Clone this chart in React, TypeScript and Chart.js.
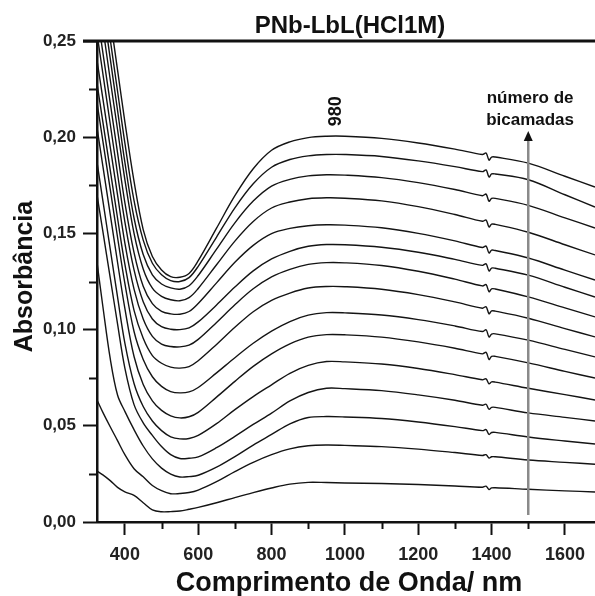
import React, { useEffect, useRef } from 'react';
import { Chart, registerables } from 'chart.js';

Chart.register(...registerables);

// ---- data ----
const wavelengths = [324, 340, 360, 380, 400, 425, 450, 475, 500, 525, 550, 575, 600, 650, 700, 750, 800, 850, 900, 950, 1000, 1100, 1200, 1300, 1375, 1385, 1393, 1400, 1410, 1500, 1600, 1682];

const abs14 = [0.312, 0.290, 0.262, 0.235, 0.208, 0.177, 0.152, 0.138, 0.131, 0.1275, 0.1272, 0.1292, 0.1358, 0.1527, 0.1696, 0.1836, 0.1932, 0.1976, 0.1998, 0.2005, 0.2005, 0.1994, 0.1970, 0.1938, 0.1910, 0.1918, 0.1881, 0.1897, 0.1897, 0.1865, 0.1797, 0.1741];
const abs13 = [0.301, 0.279, 0.251, 0.224, 0.197, 0.167, 0.1465, 0.1345, 0.1285, 0.1255, 0.125, 0.127, 0.1329, 0.1481, 0.1633, 0.1758, 0.1844, 0.1884, 0.1903, 0.191, 0.191, 0.1900, 0.1877, 0.1847, 0.1821, 0.1830, 0.1793, 0.1809, 0.1809, 0.1779, 0.1701, 0.1637];
const abs12 = [0.290, 0.268, 0.241, 0.214, 0.187, 0.158, 0.139, 0.1285, 0.1237, 0.1217, 0.121, 0.1228, 0.1281, 0.1418, 0.1555, 0.1668, 0.1746, 0.1781, 0.1799, 0.1805, 0.1803, 0.1790, 0.1764, 0.1728, 0.1696, 0.1704, 0.1667, 0.1682, 0.1682, 0.1646, 0.1581, 0.1528];
const abs11 = [0.278, 0.257, 0.230, 0.204, 0.178, 0.150, 0.1315, 0.1215, 0.1173, 0.1155, 0.115, 0.1166, 0.1214, 0.1337, 0.146, 0.1562, 0.1632, 0.1663, 0.1680, 0.1685, 0.1683, 0.1669, 0.1639, 0.1598, 0.1563, 0.1570, 0.1533, 0.1548, 0.1547, 0.1506, 0.1441, 0.1388];
const abs10 = [0.265, 0.244, 0.218, 0.192, 0.166, 0.140, 0.1225, 0.1135, 0.1095, 0.1082, 0.108, 0.1094, 0.1136, 0.1243, 0.1350, 0.1438, 0.1499, 0.1526, 0.1540, 0.1545, 0.1543, 0.1529, 0.1500, 0.1461, 0.1427, 0.1434, 0.1398, 0.1413, 0.1411, 0.1372, 0.1309, 0.1258];
const abs9 = [0.254, 0.233, 0.207, 0.181, 0.156, 0.131, 0.1145, 0.1055, 0.1015, 0.1002, 0.100, 0.1009, 0.1040, 0.1128, 0.1221, 0.1305, 0.1367, 0.1407, 0.1433, 0.1442, 0.1441, 0.1428, 0.1402, 0.1365, 0.1334, 0.1342, 0.1305, 0.1320, 0.1319, 0.1283, 0.1220, 0.1169];
const abs8 = [0.240, 0.220, 0.195, 0.170, 0.145, 0.121, 0.1055, 0.0965, 0.0925, 0.0912, 0.0910, 0.0919, 0.0949, 0.1037, 0.1129, 0.1212, 0.1274, 0.1313, 0.1339, 0.1348, 0.1347, 0.1333, 0.1303, 0.1262, 0.1227, 0.1234, 0.1197, 0.1212, 0.1211, 0.1170, 0.1113, 0.1066];
const abs7 = [0.228, 0.208, 0.183, 0.158, 0.134, 0.110, 0.0955, 0.0865, 0.0825, 0.0805, 0.0800, 0.0808, 0.0838, 0.0923, 0.1012, 0.1093, 0.1152, 0.1190, 0.1216, 0.1224, 0.1223, 0.1210, 0.1182, 0.1144, 0.1111, 0.1119, 0.1082, 0.1097, 0.1096, 0.1059, 0.1005, 0.0962];
const abs6 = [0.218, 0.198, 0.173, 0.148, 0.124, 0.099, 0.0845, 0.0755, 0.0705, 0.0678, 0.0671, 0.0676, 0.0699, 0.0775, 0.0854, 0.0929, 0.0992, 0.1042, 0.1075, 0.1088, 0.1087, 0.1076, 0.1052, 0.1019, 0.0990, 0.0999, 0.0962, 0.0977, 0.0978, 0.0945, 0.0897, 0.0858];
const abs5 = [0.205, 0.185, 0.160, 0.135, 0.111, 0.086, 0.0715, 0.0630, 0.0580, 0.0552, 0.0541, 0.0547, 0.0570, 0.0649, 0.0731, 0.0809, 0.0874, 0.0926, 0.0961, 0.0974, 0.0973, 0.0961, 0.0936, 0.0903, 0.0874, 0.0882, 0.0845, 0.0861, 0.0861, 0.0827, 0.0783, 0.0748];
const abs4 = [0.187, 0.167, 0.142, 0.117, 0.093, 0.072, 0.060, 0.0525, 0.0475, 0.0443, 0.0432, 0.0434, 0.0450, 0.0511, 0.0584, 0.0652, 0.0713, 0.0773, 0.0814, 0.0834, 0.0832, 0.0821, 0.0798, 0.0766, 0.0739, 0.0744, 0.0718, 0.0728, 0.0727, 0.0695, 0.0662, 0.0634];
const abs3 = [0.170, 0.151, 0.127, 0.103, 0.080, 0.061, 0.0515, 0.0450, 0.0392, 0.0350, 0.0330, 0.0331, 0.0338, 0.0386, 0.0445, 0.0507, 0.0566, 0.0629, 0.0673, 0.0695, 0.0693, 0.0683, 0.0661, 0.0633, 0.0607, 0.0612, 0.0586, 0.0596, 0.0596, 0.0567, 0.0544, 0.0525];
const abs2 = [0.135, 0.112, 0.085, 0.066, 0.0575, 0.0480, 0.0395, 0.0328, 0.0280, 0.0249, 0.0234, 0.0236, 0.0243, 0.0285, 0.0340, 0.0400, 0.0455, 0.0510, 0.0543, 0.0548, 0.0546, 0.0538, 0.0520, 0.0496, 0.0475, 0.0480, 0.0455, 0.0465, 0.0466, 0.0442, 0.0421, 0.0405];
const abs1 = [0.0634, 0.057, 0.0495, 0.0423, 0.0350, 0.0277, 0.0235, 0.0190, 0.0163, 0.0147, 0.0148, 0.0153, 0.0166, 0.0210, 0.0262, 0.0310, 0.0350, 0.0380, 0.0396, 0.0400, 0.0398, 0.0392, 0.0379, 0.0361, 0.0346, 0.0350, 0.0332, 0.0339, 0.0339, 0.0322, 0.0310, 0.0300];
const abs0 = [0.0265, 0.0245, 0.0215, 0.0180, 0.0157, 0.0138, 0.0100, 0.0063, 0.0053, 0.0054, 0.0057, 0.0066, 0.0076, 0.0100, 0.0127, 0.0153, 0.0177, 0.0197, 0.0206, 0.0205, 0.0203, 0.0200, 0.0195, 0.0187, 0.0181, 0.0186, 0.0169, 0.0177, 0.0178, 0.0170, 0.0162, 0.0156];

const spectra = [abs0, abs1, abs2, abs3, abs4, abs5, abs6, abs7, abs8, abs9, abs10, abs11, abs12, abs13, abs14];

const xMin = 324;
const xMax = 1682;
const yMin = 0;
const yMax = 0.25;
const xTicks = [400, 600, 800, 1000, 1200, 1400, 1600];
const xMinorTicks = [500, 700, 900, 1100, 1300, 1500];
const yTicks = [0, 0.05, 0.1, 0.15, 0.2, 0.25];
const yMinorTicks = [0.025, 0.075, 0.125, 0.175, 0.225];

const chartTitle = 'PNb-LbL(HCl1M)';
const xTitle = 'Comprimento de Onda/ nm';
const yTitle = 'Absorbância';
const peakLabel = '980';
const peakLabelX = 975;
const peakLabelY = 0.2135;
const arrowX = 1500;
const arrowFrom = 0.0036;
const arrowTo = 0.2032;
const arrowText = ['número de', 'bicamadas'];
const arrowTextX = 1505;
const arrowTextY = [0.2178, 0.2063];

const FONT = '"Liberation Sans", Arial, Helvetica, sans-serif';

const decorPlugin = {
  id: 'decor',
  afterDraw(chart: any) {
    const ctx = chart.ctx;
    const xs = chart.scales.x;
    const ys = chart.scales.y;
    const area = chart.chartArea;
    ctx.save();
    // top frame line
    ctx.strokeStyle = '#111';
    ctx.lineWidth = 3;
    ctx.beginPath();
    ctx.moveTo(area.left - 14, area.top);
    ctx.lineTo(area.right, area.top);
    ctx.stroke();
    // minor ticks
    ctx.lineWidth = 2;
    ctx.strokeStyle = '#111';
    yMinorTicks.forEach((v) => {
      const y = Math.round(ys.getPixelForValue(v)) + 0.5;
      ctx.beginPath();
      ctx.moveTo(area.left - 8, y);
      ctx.lineTo(area.left, y);
      ctx.stroke();
    });
    xMinorTicks.forEach((v) => {
      const x = Math.round(xs.getPixelForValue(v)) + 0.5;
      ctx.beginPath();
      ctx.moveTo(x, area.bottom);
      ctx.lineTo(x, area.bottom + 7);
      ctx.stroke();
    });
    // title
    ctx.fillStyle = '#111';
    ctx.textAlign = 'center';
    ctx.textBaseline = 'alphabetic';
    ctx.font = `bold 24px ${FONT}`;
    ctx.fillText(chartTitle, (area.left + area.right) / 2 + 4, area.top - 8);
    // x title
    ctx.font = `bold 27px ${FONT}`;
    ctx.fillText(xTitle, (area.left + area.right) / 2 + 3, 591);
    // y title
    ctx.save();
    ctx.translate(25, (area.top + area.bottom) / 2 - 5);
    ctx.rotate(-Math.PI / 2);
    ctx.textBaseline = 'middle';
    ctx.font = `bold 25px ${FONT}`;
    ctx.fillText(yTitle, 0, 0);
    ctx.restore();
    // 980 label
    ctx.save();
    ctx.translate(xs.getPixelForValue(peakLabelX), ys.getPixelForValue(peakLabelY));
    ctx.rotate(-Math.PI / 2);
    ctx.textBaseline = 'middle';
    ctx.font = `bold 18px ${FONT}`;
    ctx.fillText(peakLabel, 0, 0);
    ctx.restore();
    // arrow
    const ax = xs.getPixelForValue(arrowX);
    const ay0 = ys.getPixelForValue(arrowFrom);
    const ay1 = ys.getPixelForValue(arrowTo);
    ctx.strokeStyle = '#8a8a8a';
    ctx.lineWidth = 2.5;
    ctx.beginPath();
    ctx.moveTo(ax, ay0);
    ctx.lineTo(ax, ay1 + 8);
    ctx.stroke();
    ctx.fillStyle = '#111';
    ctx.beginPath();
    ctx.moveTo(ax, ay1);
    ctx.lineTo(ax - 4.5, ay1 + 10);
    ctx.lineTo(ax + 4.5, ay1 + 10);
    ctx.closePath();
    ctx.fill();
    ctx.font = `bold 17px ${FONT}`;
    ctx.textBaseline = 'alphabetic';
    arrowText.forEach((t, i) => {
      ctx.fillText(t, xs.getPixelForValue(arrowTextX), ys.getPixelForValue(arrowTextY[i]));
    });
    ctx.restore();
  },
};

export default function App() {
  const canvasRef = useRef<HTMLCanvasElement | null>(null);

  useEffect(() => {
    const canvas = canvasRef.current;
    if (!canvas) return;
    const datasets = spectra.map((arr, k) => ({
      label: `${k}`,
      data: wavelengths.map((w, i) => ({ x: w, y: arr[i] })),
      borderColor: '#141414',
      borderWidth: 1.4,
      pointRadius: 0,
      fill: false,
      tension: 0.35,
    }));
    const chart = new Chart(canvas, {
      type: 'line',
      data: { datasets },
      options: {
        responsive: false,
        animation: false,
        layout: { padding: { top: 41, left: 0, right: 0, bottom: 0 } },
        plugins: { legend: { display: false }, tooltip: { enabled: false }, title: { display: false } },
        scales: {
          x: {
            type: 'linear',
            min: xMin,
            max: xMax,
            afterFit: (scale: any) => { scale.height = 74; },
            afterBuildTicks: (scale: any) => { scale.ticks = xTicks.map((value) => ({ value })); },
            border: { display: true, color: '#111', width: 2.5 },
            grid: { drawOnChartArea: false, drawTicks: true, tickLength: 13, tickWidth: 2, tickColor: '#111' },
            ticks: {
              color: '#222',
              font: { family: FONT, size: 18, weight: 'bold' },
              padding: 9,
              maxRotation: 0,
              autoSkip: false,
              callback: (v: any) => String(v),
            },
          },
          y: {
            type: 'linear',
            min: yMin,
            max: yMax,
            afterFit: (scale: any) => { scale.width = 97; },
            afterBuildTicks: (scale: any) => { scale.ticks = yTicks.map((value) => ({ value })); },
            border: { display: true, color: '#111', width: 2.5 },
            grid: { drawOnChartArea: false, drawTicks: true, tickLength: 14, tickWidth: 2, tickColor: '#111' },
            ticks: {
              color: '#222',
              font: { family: FONT, size: 17, weight: 'bold' },
              padding: 7,
              autoSkip: false,
              callback: (v: any) => Number(v).toFixed(2).replace('.', ','),
            },
          },
        },
      },
      plugins: [decorPlugin],
    });
    return () => chart.destroy();
  }, []);

  return (
    <div style={{ position: 'absolute', left: 0, top: 0, width: 595, height: 596, background: '#fff' }}>
      <canvas ref={canvasRef} width={595} height={596} style={{ display: 'block', width: 595, height: 596 }} />
    </div>
  );
}
